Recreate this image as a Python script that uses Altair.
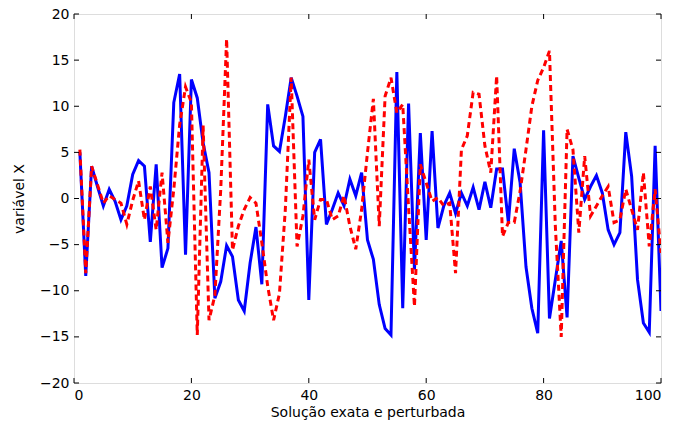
import altair as alt
import pandas as pd

x_vals = list(range(1, 101))

exata = [5.0, -8.4, 3.5, 1.3, -0.8, 1.0, -0.3, -2.3, -0.8, 2.6,
         4.1, 3.5, -4.7, 3.7, -7.5, -5.4, 10.4, 13.5, -6.1, 12.9,
         10.9, 6.0, 2.8, -10.8, -9.0, -5.1, -6.3, -11.0, -12.2, -7.0,
         -3.1, -9.3, 10.2, 5.7, 5.1, 8.9, 13.1, 11.1, 8.9, -11.0,
         5.0, 6.4, -2.8, -1.2, 0.6, -0.8, 2.1, 0.3, 2.8, -4.5,
         -6.6, -11.5, -14.1, -14.8, 13.7, -11.9, 10.3, -7.7, 7.1, -4.5,
         7.3, -3.2, -0.8, 0.6, -1.6, 0.6, -0.8, 1.2, -1.2, 1.8,
         -1.0, 3.2, 3.2, -2.6, 5.4, 1.7, -7.4, -11.9, -14.6, 7.4,
         -13.0, -8.8, -4.6, -12.9, 4.6, 2.2, -0.1, 1.3, 2.5, 0.6,
         -3.4, -5.0, -3.7, 7.2, 2.4, -8.8, -13.5, -14.5, 5.7, -12.2]

perturbada = [5.3, -8.1, 3.5, 1.5, -0.5, 0.3, -0.1, -0.5, -2.8, -0.2,
              1.9, -2.3, 1.3, -3.4, 2.8, -4.8, 1.0, 8.0, 12.1, 10.4,
              -14.8, 7.9, -13.2, -10.5, 1.0, 17.3, -5.6, -3.0, -1.2, 0.1,
              -0.5, -4.8, -9.5, -13.2, -10.3, -1.2, 13.1, -5.2, -1.9, 4.2,
              -2.3, -0.1, -0.1, -2.3, -1.9, 0.3, -3.0, -5.5, -1.2, 5.0,
              10.8, -3.0, 11.1, 13.1, 9.3, 10.2, -1.0, -11.7, 3.7, 1.7,
              -0.3, 0.1, -0.8, -0.5, -8.1, 5.3, 6.8, 11.5, 11.3, 5.7,
              2.8, 13.3, -4.1, -2.6, -2.6, 0.8, 5.3, 10.0, 12.8, 14.2,
              16.0, -3.0, -15.0, 7.5, 5.3, -3.7, 4.6, -1.9, -0.8, 0.3,
              1.3, -2.6, -2.3, 1.0, -1.2, -3.4, 2.8, -5.2, 1.0, -5.9]

x_ticks = [0, 20, 40, 60, 80, 100]
y_ticks = [-20, -15, -10, -5, 0, 5, 10, 15, 20]

W, H = 587, 369
FONT = "DejaVu Sans"
FS = 14

df = pd.DataFrame({
    "x": x_vals * 2,
    "y": exata + perturbada,
    "serie": ["exata"] * 100 + ["perturbada"] * 100,
})

xscale = alt.Scale(domain=[0, 100], nice=False, zero=False)
yscale = alt.Scale(domain=[-20, 20], nice=False, zero=False)

xaxis = alt.Axis(values=x_ticks, title="Solução exata e perturbada", tickSize=0,
                 labelPadding=5, grid=False, domain=False, labelFont=FONT,
                 labelFontSize=FS, labelColor="black", titleFont=FONT,
                 titleFontSize=FS, titleFontWeight="normal", titleColor="black",
                 titlePadding=3)
yaxis = alt.Axis(values=y_ticks, title="variável X", tickSize=0, labelPadding=5,
                 grid=False, domain=False, labelFont=FONT, labelFontSize=FS,
                 labelColor="black", titleFont=FONT, titleFontSize=FS,
                 titleFontWeight="normal", titleColor="black", titlePadding=13)

blue = alt.Chart(df).transform_filter(alt.datum.serie == "exata").mark_line(
    color="#0000ff", strokeWidth=3, clip=True
).encode(
    x=alt.X("x:Q", scale=xscale, axis=xaxis),
    y=alt.Y("y:Q", scale=yscale, axis=yaxis),
)

red = alt.Chart(df).transform_filter(alt.datum.serie == "perturbada").mark_line(
    color="#ff0000", strokeWidth=3, strokeDash=[6, 4], clip=True
).encode(
    x=alt.X("x:Q", scale=xscale),
    y=alt.Y("y:Q", scale=yscale),
)

xt = pd.DataFrame({"t": x_ticks})
yt = pd.DataFrame({"t": y_ticks})

tick_bottom = alt.Chart(xt).mark_rule(color="black", strokeWidth=1).encode(
    x=alt.X("t:Q", scale=xscale), y=alt.value(H), y2=alt.value(H - 5))
tick_top = alt.Chart(xt).mark_rule(color="black", strokeWidth=1).encode(
    x=alt.X("t:Q", scale=xscale), y=alt.value(0), y2=alt.value(5))
tick_left = alt.Chart(yt).mark_rule(color="black", strokeWidth=1).encode(
    y=alt.Y("t:Q", scale=yscale), x=alt.value(0), x2=alt.value(5))
tick_right = alt.Chart(yt).mark_rule(color="black", strokeWidth=1).encode(
    y=alt.Y("t:Q", scale=yscale), x=alt.value(W), x2=alt.value(W - 5))

chart = alt.layer(blue, red, tick_bottom, tick_top, tick_left, tick_right).properties(
    width=W, height=H,
    autosize=alt.AutoSizeParams(type="none"),
    padding={"left": 74, "top": 14, "right": 15, "bottom": 40},
).configure_view(stroke="black", strokeWidth=1.5).configure(background="white")

chart.save("out.html", embed_options={"renderer": "svg", "actions": False})
